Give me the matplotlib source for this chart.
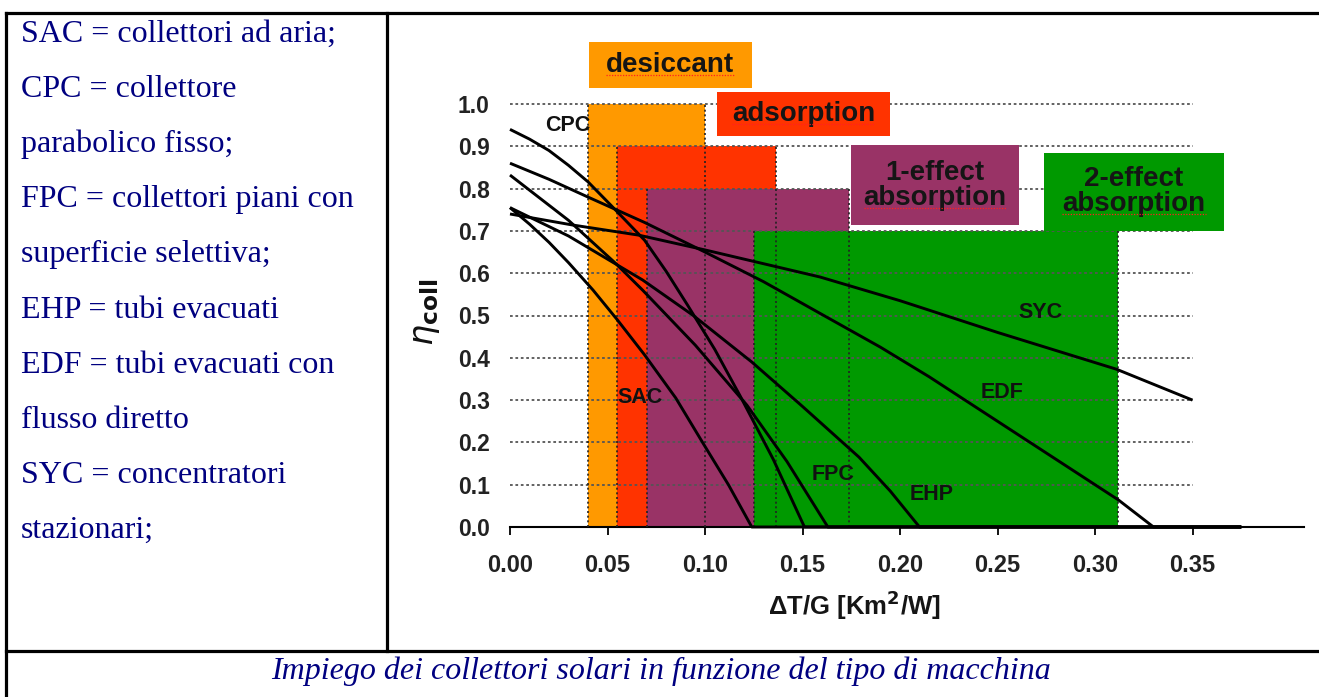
import matplotlib
matplotlib.use('Agg')
import matplotlib.pyplot as plt
from matplotlib.lines import Line2D

# ---------------- data ----------------
legend_lines = ["SAC = collettori ad aria;", "CPC = collettore", "parabolico fisso;",
                "FPC = collettori piani con", "superficie selettiva;", "EHP = tubi evacuati",
                "EDF = tubi evacuati con", "flusso diretto", "SYC = concentratori", "stazionari;"]
caption = "Impiego dei collettori solari in funzione del tipo di macchina"

x_ticks = [0.00, 0.05, 0.10, 0.15, 0.20, 0.25, 0.30, 0.35]
y_ticks = [0.0, 0.1, 0.2, 0.3, 0.4, 0.5, 0.6, 0.7, 0.8, 0.9, 1.0]

# operating ranges of cooling technologies
tech_names = ["desiccant", "adsorption", "1-effect\nabsorption", "2-effect\nabsorption"]
tech_left = [0.040, 0.055, 0.070, 0.125]
tech_right = [0.100, 0.1365, 0.174, 0.312]
tech_top = [1.00, 0.90, 0.80, 0.70]
tech_colors = ["#FF9900", "#FF3300", "#993366", "#009900"]
# label boxes
box_x0 = [0.0405, 0.106, 0.175, 0.274]
box_x1 = [0.124, 0.195, 0.261, 0.366]
box_y0 = [1.038, 0.924, 0.714, 0.700]
box_y1 = [1.147, 1.028, 0.903, 0.884]

# collector efficiency curves
cpc_x = [0.000, 0.010, 0.020, 0.030, 0.040, 0.054, 0.069, 0.080, 0.091, 0.105, 0.118, 0.135, 0.151, 0.375]
cpc_y = [0.940, 0.917, 0.890, 0.855, 0.816, 0.750, 0.678, 0.605, 0.525, 0.420, 0.310, 0.160, 0.000, 0.000]
edf_x = [0.000, 0.020, 0.040, 0.069, 0.100, 0.130, 0.159, 0.190, 0.215, 0.260, 0.312, 0.330, 0.375]
edf_y = [0.860, 0.822, 0.780, 0.720, 0.650, 0.580, 0.505, 0.425, 0.355, 0.220, 0.064, 0.000, 0.000]
fpc_x = [0.000, 0.030, 0.054, 0.068, 0.095, 0.1215, 0.142, 0.163, 0.375]
fpc_y = [0.832, 0.725, 0.624, 0.560, 0.430, 0.288, 0.155, 0.000, 0.000]
sac_x = [0.000, 0.010, 0.020, 0.030, 0.0426, 0.055, 0.069, 0.085, 0.099, 0.112, 0.124, 0.375]
sac_y = [0.755, 0.716, 0.673, 0.625, 0.560, 0.490, 0.407, 0.305, 0.198, 0.100, 0.000, 0.000]
ehp_x = [0.000, 0.030, 0.068, 0.094, 0.124, 0.150, 0.179, 0.195, 0.210, 0.375]
ehp_y = [0.755, 0.688, 0.584, 0.500, 0.390, 0.285, 0.165, 0.085, 0.000, 0.000]
syc_x = [0.000, 0.032, 0.066, 0.100, 0.159, 0.200, 0.250, 0.311, 0.350]
syc_y = [0.740, 0.714, 0.690, 0.655, 0.591, 0.535, 0.460, 0.373, 0.300]

curve_labels = ["CPC", "SAC", "FPC", "EHP", "EDF", "SYC"]
curve_label_x = [0.0297, 0.0667, 0.1656, 0.2164, 0.2523, 0.2718]
curve_label_y = [0.950, 0.307, 0.123, 0.076, 0.317, 0.506]

# ---------------- figure ----------------
W, H = 1319, 697
fig = plt.figure(figsize=(W / 100, H / 100), dpi=100)
fig.patch.set_facecolor('white')


def fx(px):
    return px / W


def fy(py):
    return 1 - py / H


# table borders
blw = 2.3
for (x0, y0, x1, y1) in [(6, 13, 1319, 13), (6, 13, 6, 697), (387, 13, 387, 651), (6, 651, 1319, 651)]:
    fig.add_artist(Line2D([fx(x0), fx(x1)], [fy(y0), fy(y1)], color='black', lw=blw,
                          solid_capstyle='projecting'))

navy = '#000080'
for i, s in enumerate(legend_lines):
    fig.text(fx(21), fy(34 + 55.2 * i), s, ha='left', va='center', family='Liberation Serif',
             size=23, color=navy)
fig.text(fx(661), fy(671), caption, ha='center', va='center', family='Liberation Serif',
         style='italic', size=23, color=navy)

# ---------------- chart ----------------
x0px, x1px = 510, 1303.6
ytop = 1.2
ax = fig.add_axes([fx(x0px), fy(527), fx(x1px) - fx(x0px), fy(527 - ytop * 423) - fy(527)])
ax.set_xlim(0, (x1px - x0px) / 1950)
ax.set_ylim(0, ytop)
ax.patch.set_alpha(0)
for sp in ['top', 'right', 'left']:
    ax.spines[sp].set_visible(False)
ax.spines['bottom'].set_linewidth(1.5)

# ranges
ax.bar(tech_left, tech_top, width=[r - l for l, r in zip(tech_left, tech_right)], align='edge',
       color=tech_colors, zorder=1, linewidth=0)

# grid
ax.hlines(y_ticks[1:], 0, 0.35, colors='#555555', linestyles=(0, (1.5, 1.5)), lw=1.3, zorder=3)
for l, r, t in zip(tech_left, tech_right, tech_top):
    ax.vlines([l, r], 0, t, colors='#222222', linestyles=(0, (1.2, 1.6)), lw=1.2, zorder=3)

# label boxes
box_texts = []
for name, bx0, bx1, by0, by1, c in zip(tech_names, box_x0, box_x1, box_y0, box_y1, tech_colors):
    ax.bar(bx0, by1 - by0, width=bx1 - bx0, bottom=by0, align='edge', color=c, zorder=4,
           linewidth=0, clip_on=False)
    t = ax.text((bx0 + bx1) / 2, (by0 + by1) / 2, name, ha='center', va='center',
                family='Liberation Sans', weight='bold', size=20, color='#151515', zorder=7,
                linespacing=0.95)
    box_texts.append(t)

# curves
for xs, ys in [(cpc_x, cpc_y), (edf_x, edf_y), (fpc_x, fpc_y), (sac_x, sac_y), (ehp_x, ehp_y),
               (syc_x, syc_y)]:
    ax.plot(xs, ys, color='black', lw=2.1, zorder=5, solid_capstyle='butt',
            solid_joinstyle='round', clip_on=False)

for s, lx, ly in zip(curve_labels, curve_label_x, curve_label_y):
    ax.text(lx, ly, s, ha='center', va='center', family='Liberation Sans', weight='bold',
            size=15.5, color='#111111', zorder=7)

# ticks
ax.set_xticks(x_ticks)
ax.set_xticklabels([f"{v:.2f}" for v in x_ticks], family='Liberation Sans', weight='bold',
                   size=17, color='#222222')
ax.set_yticks(y_ticks)
ax.set_yticklabels([f"{v:.1f}" for v in y_ticks], family='Liberation Sans', weight='bold',
                   size=16.5, color='#222222')
ax.tick_params(axis='x', direction='out', length=6, width=1.3, pad=13.5)
ax.tick_params(axis='y', length=0, pad=14.5)

fig.text(fx(854), fy(605), "ΔT/G [Km$^\\mathbf{2}$/W]", ha='center', va='center',
         family='Liberation Sans', weight='bold', size=18.5, color='#151515')
fig.text(fx(426), fy(312), r'$\eta_{\mathbf{coll}}$', rotation=90, ha='center', va='center',
         size=24, color='#111111')

# spell-check style red dotted underline beneath the box words
fig.canvas.draw()
rend = fig.canvas.get_renderer()
for t in box_texts:
    bb = t.get_window_extent(rend)
    fig.add_artist(Line2D([bb.x0 / W, bb.x1 / W], [(bb.y0 + 3) / H] * 2, color='#ff2020',
                          lw=0.9, ls=(0, (1, 1.2)), zorder=8))

fig.savefig('out.png', dpi=100)
